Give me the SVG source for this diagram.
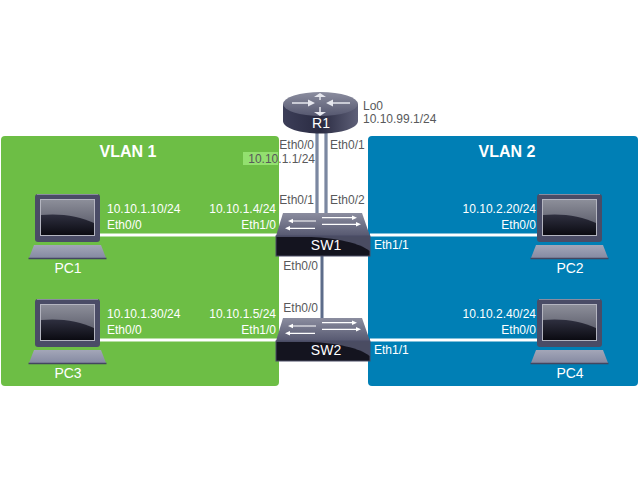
<svg xmlns="http://www.w3.org/2000/svg" xmlns:xlink="http://www.w3.org/1999/xlink" width="640" height="480" viewBox="0 0 640 480">
<style>
text{font-family:"Liberation Sans",Arial,sans-serif;font-size:12px}
.w{fill:#fff}.g{fill:#58595b}.t{font-size:16px;font-weight:bold;fill:#fff}.n{font-size:14px;fill:#fff}
.m{text-anchor:middle}.e{text-anchor:end}
.lk{stroke:#fff;stroke-width:3;fill:none}.up{stroke:#5d6c8a;stroke-width:3;fill:none}
</style>
<defs>
<linearGradient id="scr" x1="0" y1="0" x2="0" y2="1"><stop offset="0" stop-color="#8d8f9a"/><stop offset="1" stop-color="#4c4d5c"/></linearGradient>
<linearGradient id="scr2" x1="0" y1="0" x2="0" y2="1"><stop offset="0" stop-color="#2f3040"/><stop offset="1" stop-color="#0b0b12"/></linearGradient>
<linearGradient id="kb" x1="0" y1="0" x2="0" y2="1"><stop offset="0" stop-color="#a3a6b8"/><stop offset="1" stop-color="#858aa2"/></linearGradient>
<linearGradient id="top" x1="0" y1="0" x2="0" y2="1"><stop offset="0" stop-color="#8b8d9f"/><stop offset="1" stop-color="#565870"/></linearGradient>
<linearGradient id="rside" x1="0" y1="0" x2="1" y2="0"><stop offset="0" stop-color="#3c3e58"/><stop offset=".5" stop-color="#2a2b42"/><stop offset="1" stop-color="#5e6078"/></linearGradient>
<g id="laptop">
<rect x="0" y="0" width="65" height="48" rx="3" fill="#4a4c66"/>
<path d="M2 0.5H63" stroke="#8a8ca0" stroke-width="1.2"/>
<rect x="5.500" y="5.500" width="54" height="36" fill="url(#scr)" stroke="#b4b5c0"/>
<path d="M6 21C25 19 45 22 59 29V41H6Z" fill="url(#scr2)"/>
<path d="M-6 64L-1 51H66L71 64Z" fill="url(#kb)"/>
<path d="M-6.500 64.500H71.500" stroke="#434660" stroke-width="1.500"/>
</g>
<g id="switch">
<path d="M7 0H86L94 23H0Z" fill="url(#top)"/>
<rect x="0" y="23" width="94" height="20" fill="#4a4c62" stroke="#4a4c66"/>
<path d="M0.500 24H35C60 25 84 30 93.500 38V42.500H0.500Z" fill="#14141f"/>
<g stroke="#fff" stroke-width="1.200" fill="#fff">
<path d="M46 4.700H78M15 8H40M46 11.300H82M12 15.300H39"/>
<path d="M81 4.700l-5-2.300v4.600zM12 8l5-2.300v4.600zM85 11.300l-5-2.300v4.600zM9 15.300l5-2.300v4.600z" stroke="none"/>
</g>
</g>
</defs>

<rect id="vlan1" x="1" y="136" width="278" height="250" rx="4" fill="#6dbe45"/>
<rect id="vlan2" x="368" y="136" width="270" height="250" rx="4" fill="#007fb5"/>
<rect x="243" y="152" width="35" height="13" fill="#93e06f"/>

<g id="connectors">
<path class="lk" d="M100 235H277M100 340H277M370 235H537M370 340H537"/>
<path class="up" d="M317 133V213M326 133V213M322 256V318"/>
<path d="M317 133V213M326 133V213" stroke="#9aa3b8" stroke-width="1" fill="none"/>
</g>

<g id="R1">
<path d="M283 104V121C283 128 300 133.500 320.500 133.500S358 128 358 121V104Z" fill="url(#rside)"/>
<ellipse cx="320.500" cy="104" rx="37.500" ry="12" fill="url(#top)"/>
<g stroke="#e6e7ee" stroke-width="1.500" fill="#e6e7ee">
<path d="M292 103H310M331 103H350M320 96V100M320 107V112"/>
<path d="M320 93l6 4h-12zM320 116l6-4h-12zM315 103l-7-3.500v7zM326 103l7-3.500v7z" stroke="none"/>
</g>
<text class="n m" x="321" y="128">R1</text>
</g>
<text class="g" x="363" y="110">Lo0</text>
<text class="g" x="363" y="123">10.10.99.1/24</text>

<g id="SW1"><use href="#switch" x="276" y="213"/><text class="n m" x="326" y="250">SW1</text></g>
<g id="SW2"><use href="#switch" x="276" y="318"/><text class="n m" x="326" y="355">SW2</text></g>

<g id="PC1"><use href="#laptop" x="35" y="194"/><text class="n m" x="68" y="273">PC1</text></g>
<g id="PC2"><use href="#laptop" x="537" y="194"/><text class="n m" x="570" y="273">PC2</text></g>
<g id="PC3"><use href="#laptop" x="35" y="299"/><text class="n m" x="68" y="378">PC3</text></g>
<g id="PC4"><use href="#laptop" x="537" y="299"/><text class="n m" x="570" y="378">PC4</text></g>

<text class="t m" x="128" y="157">VLAN 1</text>
<text class="t m" x="507" y="157">VLAN 2</text>

<g class="g">
<text class="e" x="314" y="149">Eth0/0</text>
<text x="330" y="149">Eth0/1</text>
<text class="e" x="315" y="163">10.10.1.1/24</text>
<text class="e" x="314" y="204">Eth0/1</text>
<text x="330" y="204">Eth0/2</text>
<text class="e" x="318" y="270">Eth0/0</text>
<text class="e" x="318" y="312">Eth0/0</text>
</g>
<g class="w">
<text x="107" y="213">10.10.1.10/24</text>
<text x="107" y="229">Eth0/0</text>
<text class="e" x="276" y="213">10.10.1.4/24</text>
<text class="e" x="276" y="229">Eth1/0</text>
<text x="107" y="318">10.10.1.30/24</text>
<text x="107" y="334">Eth0/0</text>
<text class="e" x="276" y="318">10.10.1.5/24</text>
<text class="e" x="276" y="334">Eth1/0</text>
<text class="e" x="536" y="213">10.10.2.20/24</text>
<text class="e" x="536" y="229">Eth0/0</text>
<text class="e" x="536" y="318">10.10.2.40/24</text>
<text class="e" x="536" y="334">Eth0/0</text>
<text x="374" y="249">Eth1/1</text>
<text x="374" y="354">Eth1/1</text>
</g>
</svg>
